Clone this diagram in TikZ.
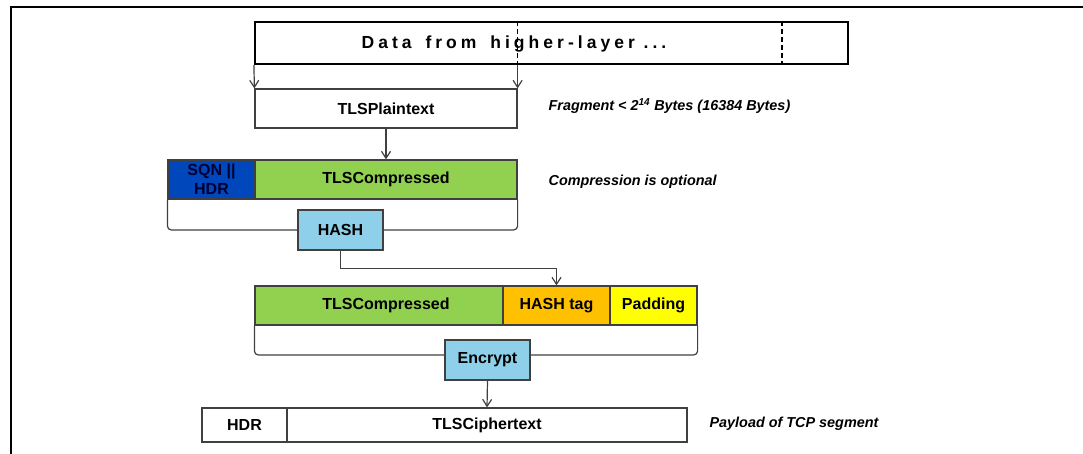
\documentclass[tikz,border=0pt]{standalone}
\usepackage{fontspec}
\setmainfont{Liberation Sans}
\usepackage{tikz}
\usetikzlibrary{arrows.meta}
\usetikzlibrary{positioning, calc}

\definecolor{lineg}{HTML}{404040}
\definecolor{sqnblue}{HTML}{0047BB}
\definecolor{compgreen}{HTML}{92D050}
\definecolor{hashblue}{HTML}{8ECFEA}
\definecolor{tagorange}{HTML}{FFC000}
\definecolor{padyellow}{HTML}{FFFF00}

\tikzset{
  field/.style={draw=lineg, line width=1.2pt, inner sep=0pt, minimum height=39pt,
    font=\bfseries\fontsize{16}{19}\selectfont, align=center},
  note/.style={anchor=west, inner sep=0pt, font=\bfseries\itshape\fontsize{14.4}{17}\selectfont},
  >={Straight Barb[length=7pt,width=9pt]}
}

\begin{document}
\begin{tikzpicture}[x=1pt, y=-1pt, line width=1.2pt]
\useasboundingbox (0,0) rectangle (1083,454);
\draw [line width=2.4pt] (11,454) -- (11,7) -- (1083,7);

% data from the upper layer
\node (data) at (551.5,43) [draw, line width=2.2pt, minimum width=593pt, minimum height=42pt] {};
\node (datatext) at (514,44) [inner sep=0pt] {\fontsize{17.5}{19}\selectfont\bfseries\addfontfeatures{LetterSpace=23}Data\hspace{5pt} from\hspace{5pt} higher-layer ...};
\draw [dashed, dash pattern=on 5pt off 3pt] ([xshift=528pt]data.north west) -- ([xshift=528pt]data.south west);

\node (plain) at (386,108.5) [field, minimum width=262pt] {TLSPlaintext};
\draw [dashed, dash pattern=on 5pt off 3pt] (plain.north east |- data.north) -- (plain.north east |- data.south);
\draw [->, draw=lineg] (data.south west) -- (plain.north west);
\draw [->, draw=lineg] (plain.north east |- data.south) -- (plain.north east);
\node (fragnote) at (548,106) [note] {Fragment < 2\textsuperscript{14} Bytes (16384 Bytes)};

% compression
\node (sqn) at (211.5,179.5) [field, fill=sqnblue, minimum width=87pt, text=black!80!blue] {SQN ||\\HDR};
\node (comp) at (386,179.5) [field, fill=compgreen, minimum width=262pt] {TLSCompressed};
\draw [->, draw=lineg] (plain.south) -- (comp.north);
\node (compnote) at (548,182) [note] {Compression is optional};

\node (hash) at (340.5,230) [field, fill=hashblue, minimum width=85pt, minimum height=40pt] {HASH};
\draw [draw=lineg, rounded corners=4pt] (sqn.south west) |- (hash.west);
\draw [draw=lineg, rounded corners=4pt] (comp.south east) |- (hash.east);

% MAC and padding
\node (comp2) at (386,305.5) [field, fill=compgreen, minimum width=262pt] {TLSCompressed};
\node (tag) at (556.5,305.5) [field, fill=tagorange, minimum width=107pt] {HASH tag};
\node (pad) at (653.5,305.5) [field, fill=padyellow, minimum width=87pt] {Padding};
\draw [->, draw=lineg] (hash.south) -- ++(0,18) -| (tag.north);

\node (enc) at (487.5,360) [field, fill=hashblue, minimum width=85pt, minimum height=40pt] {Encrypt};
\draw [draw=lineg, rounded corners=4pt] (comp2.south west) |- ([yshift=5pt]enc.west);
\draw [draw=lineg, rounded corners=4pt] (pad.south east) |- ([yshift=5pt]enc.east);

% record sent out
\node (hdr) at (244.5,425) [field, minimum width=85pt, minimum height=34pt] {HDR};
\node (cipher) at (487,425) [field, minimum width=400pt, minimum height=34pt] {TLSCiphertext};
\draw [->, draw=lineg] (enc.south) -- (cipher.north);
\node (tcpnote) at (709,424) [note] {Payload of TCP segment};

\end{tikzpicture}
\end{document}
